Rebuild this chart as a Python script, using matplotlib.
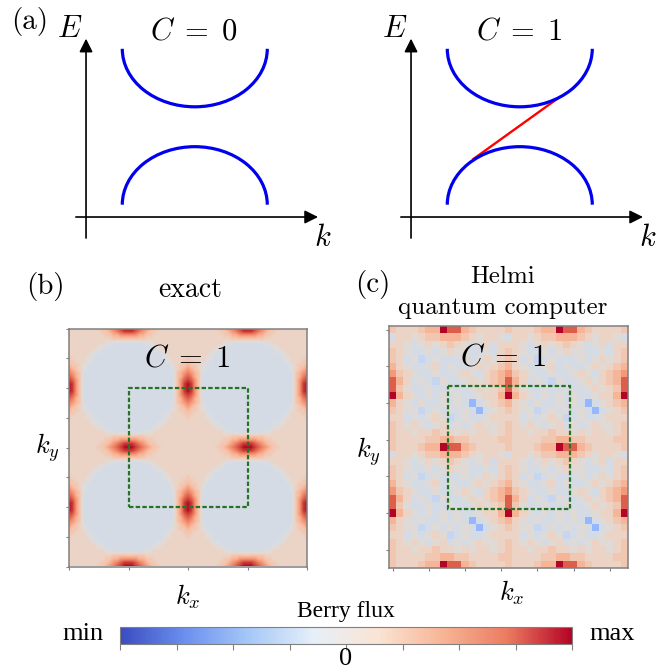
import numpy as np
import matplotlib
matplotlib.use("Agg")
import matplotlib.pyplot as plt
from matplotlib.patches import Arc, Rectangle
from matplotlib.colors import LinearSegmentedColormap, Normalize
from matplotlib.cm import ScalarMappable

plt.rcParams['mathtext.fontset'] = 'cm'
plt.rcParams['axes.unicode_minus'] = False

# Berry flux levels (fraction of max) used by the character maps below
levels = {'b': -0.45, 'c': -0.17, '-': -0.06, '0': 0.03, '1': 0.12, '2': 0.22,
          '3': 0.35, '4': 0.5, '5': 0.62, '6': 0.75, '7': 0.88, '8': 1.0}

# exact flux, one quarter zone: rows ky = 0..pi, cols kx = 0..pi, step pi/16
exact_quarter = [
    "11111111223456788",
    "11111111122345677",
    "11111111112233444",
    "11111111111122222",
    "111111111100-----",
    "1111111100-------",
    "111111100--------",
    "1111110----------",
    "2111100----------",
    "221110-----------",
    "32210------------",
    "43210------------",
    "5432-------------",
    "6532-------------",
    "7642-------------",
    "8742-------------",
    "8742-------------",
]

# Helmi result, one period (16 x 16 cells), repeated over the 33 x 33 grid
helmi_cell = [
    "2111233866321111",
    "-110122333210110",
    "110-0101210-01-1",
    "210--0-0100--0-1",
    "21-0c-0---0-0101",
    "310--01-0--01012",
    "4210--0--010-123",
    "631-0-c0--010123",
    "620--0--0--01012",
    "8310-0-0-0--0113",
    "310-0--0-0-b-012",
    "2100c-0-0-0-b-01",
    "11-0-010c-0--011",
    "21010-01-0-01001",
    "2110112110101101",
    "2111122332211112",
]

# schematic band structure (a)
band_k0 = 1.5
band_half = 1.0
upper_band_E = (2.32, 1.52)   # edge, bottom
lower_band_E = (0.17, 0.97)   # edge, top
edge_k = [0.86, 2.03]
edge_E = [0.80, 1.64]
chern = ['0', '1']

bar_colors = ['#3b4cc0', '#6b90ee', '#a6c8f7', '#e6eff8', '#fae4d3',
              '#f7b596', '#ec7b60', '#b40426']

W, H = 668, 672
fig = plt.figure(figsize=(W / 100, H / 100), dpi=100)


def fx(x):
    return x / W


def fy(y):
    return 1 - y / H


serif = 'cmr10'
times = 'Liberation Serif'
ceq = r'$C\;=\;%s$'

# ---- (a) schematics
for i, left in enumerate([60, 385]):
    ax = fig.add_axes([fx(left), fy(250), 275 / W, 250 / H])
    ax.set_xlim(-0.359, 3.434)
    ax.set_ylim(-0.455, 2.993)
    ax.axis('off')
    arw = dict(arrowstyle='-|>', color='k', lw=1.2, mutation_scale=20,
               shrinkA=0, shrinkB=0)
    ax.annotate('', xy=(0, 2.46), xytext=(0, -0.29), arrowprops=arw)
    ax.annotate('', xy=(3.2, 0), xytext=(-0.14, 0), arrowprops=arw)
    d_up = upper_band_E[0] - upper_band_E[1]
    d_lo = lower_band_E[1] - lower_band_E[0]
    ax.add_patch(Arc((band_k0, upper_band_E[0]), 2 * band_half, 2 * d_up,
                     theta1=180, theta2=360, color='#0000ee', lw=2.3, zorder=3))
    ax.add_patch(Arc((band_k0, lower_band_E[0]), 2 * band_half, 2 * d_lo,
                     theta1=0, theta2=180, color='#0000ee', lw=2.3, zorder=3))
    if i == 1:
        ax.plot(edge_k, edge_E, color='#ff0000', lw=1.7, zorder=2)
    ax.text(-0.23, 2.6, '$E$', fontsize=22, ha='center', va='center')
    ax.text(3.27, -0.28, '$k$', fontsize=22, ha='center', va='center')
    ax.text(1.49, 2.57, ceq % chern[i], fontsize=22, ha='center', va='center')

fig.text(fx(30), fy(22), '(a)', fontsize=21, family=serif, ha='center', va='center')

# ---- (b) exact
Q = np.array([[levels[ch] for ch in row] for row in exact_quarter])
n = np.arange(65) - 32
idx = 16 - np.abs(16 - np.abs(n))
exact = Q[np.ix_(idx, idx)]

axb = fig.add_axes([fx(69), fy(568), 238 / W, 241 / H])
h = 2.0 / 64
axb.imshow(exact, cmap='coolwarm', vmin=-1, vmax=1, origin='lower',
           extent=[-2 - h, 2 + h, -2 - h, 2 + h], interpolation='bilinear')
axb.set_xlim(-2, 2)
axb.set_ylim(-2, 2)
axb.set_xticks(np.arange(-2, 2.01, 1))
axb.set_yticks(np.arange(-2, 2.01, 0.5))
axb.add_patch(Rectangle((-1, -1), 2, 2, fill=False, ec='#267326', lw=1.6,
                        ls=(0, (2, 1))))
axb.text(0.495, 0.875, ceq % '1', transform=axb.transAxes, fontsize=22,
         ha='center', va='center')

# ---- (c) Helmi
Hc = np.array([[levels[ch] for ch in row] for row in helmi_cell])
r = np.arange(33) % 16
helmi = Hc[np.ix_(r, r)]

axc = fig.add_axes([fx(389), fy(568), 239 / W, 242 / H])
axc.imshow(helmi, cmap='coolwarm', vmin=-1, vmax=1, interpolation='nearest',
           aspect='auto')
axc.set_xticks(np.arange(0, 31, 5))
axc.set_yticks(np.arange(0, 31, 5))
axc.add_patch(Rectangle((7.6, 7.7), 16.9, 16.8, fill=False, ec='#267326',
                        lw=1.6, ls=(0, (2, 1))))
axc.text(0.477, 0.872, ceq % '1', transform=axc.transAxes, fontsize=22,
         ha='center', va='center')

for ax in (axb, axc):
    ax.set_xticklabels([])
    ax.set_yticklabels([])
    ax.tick_params(length=2.5, width=0.8, color='#808080')
    for s in ax.spines.values():
        s.set_color('#808080')
        s.set_linewidth(1.1)

fig.text(fx(45), fy(287), '(b)', fontsize=21, family=serif, ha='center', va='center')
fig.text(fx(190), fy(290), 'exact', fontsize=20, family=serif, ha='center', va='center')
fig.text(fx(373), fy(285), '(c)', fontsize=21, family=serif, ha='center', va='center')
fig.text(fx(503), fy(277), 'Helmi', fontsize=18, family=serif, ha='center', va='center')
fig.text(fx(503), fy(308), 'quantum computer', fontsize=18, family=serif,
         ha='center', va='center')
fig.text(fx(47), fy(448), '$k_y$', fontsize=19, ha='center', va='center')
fig.text(fx(368), fy(452), '$k_y$', fontsize=19, ha='center', va='center')
fig.text(fx(188), fy(597), '$k_x$', fontsize=19, ha='center', va='center')
fig.text(fx(512), fy(593), '$k_x$', fontsize=19, ha='center', va='center')

# ---- colour bar
cax = fig.add_axes([fx(120), fy(644), 452 / W, 17 / H])
bar_cmap = LinearSegmentedColormap.from_list('berry', bar_colors)
cb = fig.colorbar(ScalarMappable(Normalize(-1, 1), bar_cmap), cax=cax,
                  orientation='horizontal', ticks=np.linspace(-1, 1, 9))
cb.set_ticklabels(['', '', '', '', '0', '', '', '', ''])
cb.outline.set_edgecolor('#808080')
cax.tick_params(length=4, width=0.8, color='#808080', labelsize=19, pad=-1)
for t in cax.get_xticklabels():
    t.set_family(times)
fig.text(fx(346), fy(612), 'Berry flux', fontsize=17, family=times, ha='center', va='center')
fig.text(fx(83), fy(634), 'min', fontsize=19, family=times, ha='center', va='center')
fig.text(fx(612), fy(634), 'max', fontsize=19, family=times, ha='center', va='center')

fig.savefig('out.png', dpi=100)
